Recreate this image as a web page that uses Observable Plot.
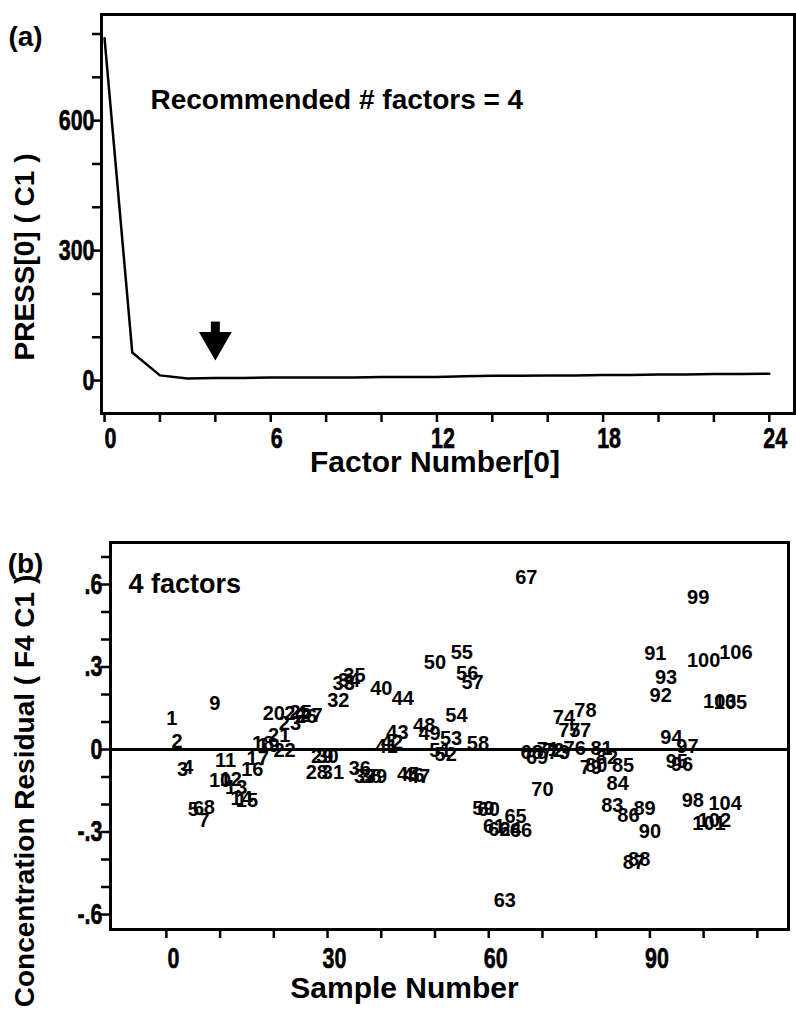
<!DOCTYPE html>
<html><head><meta charset="utf-8">
<script src="https://cdn.jsdelivr.net/npm/d3@7"></script>
<script src="https://cdn.jsdelivr.net/npm/@observablehq/plot@0.6"></script>
<style>
html,body{margin:0;padding:0;background:#fff;}
#chart svg{display:block;}
</style></head><body><div id="chart"></div>
<script>
// ---- Panel (a): PRESS vs factor number ----
const factors = [0,1,2,3,4,5,6,7,8,9,10,11,12,13,14,15,16,17,18,19,20,21,22,23,24];
const press   = [790,65,12,5,6,6,7,7,7,7,8,8,8,10,11,11,12,12,13,13,14,14,15,15,16];
const pressMinorTicks = [0,100,200,300,400,500,600,700,800];
const pressLabelTicks = [0,300,600];
const factorMinorTicks = [0,2,4,6,8,10,12,14,16,18,20,22,24];
const factorLabelTicks = [0,6,12,18,24];
const recommended = 4;
const arrowShaft = {top: 135, bottom: 105};
const arrowHead = 90;

// ---- Panel (b): concentration residuals vs sample number ----
const residuals = [
  0.113, 0.027, -0.073, -0.066, -0.22, -0.215, -0.26, -0.21, 0.168, -0.113,
  -0.04, -0.11, -0.138, -0.18, -0.185, -0.073, -0.033, 0.02, 0.015, 0.13,
  0.05, -0.004, 0.094, 0.13, 0.135, 0.12, 0.125, -0.085, -0.025, -0.025,
  -0.085, 0.178, 0.24, 0.25, 0.27, -0.068, -0.10, -0.10, -0.10, 0.22,
  0.01, 0.025, 0.06, 0.185, -0.09, -0.095, -0.10, 0.087, 0.058, 0.317,
  -0.005, -0.02, 0.04, 0.124, 0.353, 0.275, 0.245, 0.02, -0.215, -0.22,
  -0.28, -0.29, -0.55, -0.29, -0.245, -0.295, 0.625, -0.01, -0.03, -0.145,
  0.0, -0.005, -0.01, 0.117, 0.07, 0.005, 0.068, 0.142, -0.065, -0.06,
  0.005, -0.03, -0.205, -0.125, -0.06, -0.24, -0.41, -0.40, -0.215, -0.30,
  0.35, 0.196, 0.262, 0.044, -0.045, -0.055, 0.01, -0.185, 0.553, 0.324,
  -0.27, -0.26, 0.175, -0.195, 0.17, 0.353
];
const residMinorTicks = [-0.6,-0.5,-0.4,-0.3,-0.2,-0.1,0,0.1,0.2,0.3,0.4,0.5,0.6,0.7];
const residLabelTicks = [-0.6,-0.3,0,0.3,0.6];
const sampleMinorTicks = [0,10,20,30,40,50,60,70,80,90,100,110];
const sampleLabelTicks = [0,30,60,90];

const pressData = factors.map((f, i) => ({factor: f, press: press[i]}));
const residData = residuals.map((r, i) => ({sample: i + 1, residual: r}));

const sans = "'Liberation Sans',Arial,Helvetica,sans-serif";
const fmtResid = d => d === 0 ? "0" : (d < 0 ? "-" : "") + String(Math.abs(d)).replace(/^0/, "");

// horizontally condense texts (the original uses a tall, heavy condensed bold face)
function condense(root, label, sx, heavy) {
  root.querySelectorAll(`g[aria-label="${label}"] text`).forEach(t => {
    let tr = t.getAttribute("transform");
    if (!tr) {
      const x = +t.getAttribute("x") || 0, y = +t.getAttribute("y") || 0;
      t.removeAttribute("x"); t.removeAttribute("y");
      tr = `translate(${x},${y})`;
    }
    t.setAttribute("transform", tr + ` scale(${sx},1)`);
    if (heavy) { t.setAttribute("stroke", "#000"); t.setAttribute("stroke-width", heavy); }
  });
}

const plotA = Plot.plot({
  width: 796, height: 510,
  marginTop: 14, marginBottom: 97, marginLeft: 101, marginRight: 2,
  x: {domain: [-0.11, 24.91], label: null},
  y: {domain: [-76, 845], label: null},
  style: {fontFamily: sans, fontWeight: "bold", fontSize: "29px", color: "#000", background: "#fff"},
  marks: [
    Plot.axisX({ticks: factorMinorTicks, text: null, tickSize: 9, strokeWidth: 2.5, label: null}),
    Plot.axisX({ticks: factorLabelTicks, tickSize: 0, tickPadding: 14, dx: 6, label: null, fontSize: 29}),
    Plot.axisY({ticks: pressMinorTicks, text: null, tickSize: 9, strokeWidth: 2.5, label: null}),
    Plot.axisY({ticks: pressLabelTicks, tickSize: 0, tickPadding: 7, label: null, fontSize: 29}),
    Plot.frame({strokeWidth: 3}),
    Plot.line(pressData, {x: "factor", y: "press", stroke: "#000", strokeWidth: 2.5}),
    Plot.ruleX([recommended], {y1: arrowShaft.bottom, y2: arrowShaft.top, stroke: "#000", strokeWidth: 9}),
    Plot.dot([recommended], {x: d => d, y: arrowHead, symbol: "triangle", r: 12.2, fill: "#000", stroke: null, rotate: 180}),
    Plot.text(["Recommended # factors = 4"], {frameAnchor: "top-left", dx: 49, dy: 75, textAnchor: "start", fontFamily: sans, fontSize: 28, fontWeight: "bold"}),
    Plot.text(["(a)"], {frameAnchor: "top-left", dx: -76, dy: 12, textAnchor: "middle", fontFamily: sans, fontSize: 28, fontWeight: "bold"}),
    Plot.text(["PRESS[0] ( C1 )"], {frameAnchor: "left", dx: -76, dy: 43, rotate: -90, textAnchor: "middle", fontFamily: sans, fontSize: 28, fontWeight: "bold"}),
    Plot.text(["Factor Number[0]"], {frameAnchor: "bottom", dx: -13, dy: 58, textAnchor: "middle", fontFamily: sans, fontSize: 30, fontWeight: "bold", ariaLabel: "condensed title"})
  ]
});

const plotB = Plot.plot({
  width: 796, height: 499,
  marginTop: 32, marginBottom: 80, marginLeft: 110, marginRight: 8,
  x: {domain: [-10.4, 115.8], label: null},
  y: {domain: [-0.6545, 0.7527], label: null},
  style: {fontFamily: sans, fontWeight: "bold", fontSize: "29px", color: "#000", background: "#fff"},
  marks: [
    Plot.axisX({ticks: sampleMinorTicks, text: null, tickSize: 9, strokeWidth: 2.5, label: null}),
    Plot.axisX({ticks: sampleLabelTicks, tickSize: 0, tickPadding: 18, dx: 7, label: null, fontSize: 29}),
    Plot.axisY({ticks: residMinorTicks, text: null, tickSize: 9, strokeWidth: 2.5, label: null}),
    Plot.axisY({ticks: residLabelTicks, tickSize: 0, tickPadding: 8, tickFormat: fmtResid, label: null, fontSize: 29}),
    Plot.frame({strokeWidth: 3}),
    Plot.ruleY([0], {stroke: "#000", strokeWidth: 3}),
    Plot.text(residData, {x: "sample", y: "residual", text: d => String(d.sample), fontFamily: sans, fontSize: 20, fontWeight: "bold", fill: "#000"}),
    Plot.text(["4 factors"], {frameAnchor: "top-left", dx: 18, dy: 31, textAnchor: "start", fontFamily: sans, fontSize: 27, fontWeight: "bold"}),
    Plot.text(["(b)"], {frameAnchor: "top-left", dx: -85, dy: 11, textAnchor: "middle", fontFamily: sans, fontSize: 28, fontWeight: "bold"}),
    Plot.text(["Concentration Residual ( F4 C1 )"], {frameAnchor: "left", dx: -85, dy: 55, rotate: -90, textAnchor: "middle", fontFamily: sans, fontSize: 28, fontWeight: "bold"}),
    Plot.text(["Sample Number"], {frameAnchor: "bottom", dx: -45, dy: 68, textAnchor: "middle", fontFamily: sans, fontSize: 30, fontWeight: "bold", ariaLabel: "condensed title"})
  ]
});

for (const svg of [plotA, plotB]) {
  condense(svg, "x-axis tick label", 0.74, 0.6);
  condense(svg, "y-axis tick label", 0.74, 0.6);
  condense(svg, "condensed title", 0.87, 0.4);
}

document.getElementById("chart").append(plotA, plotB);
</script>
</body></html>
